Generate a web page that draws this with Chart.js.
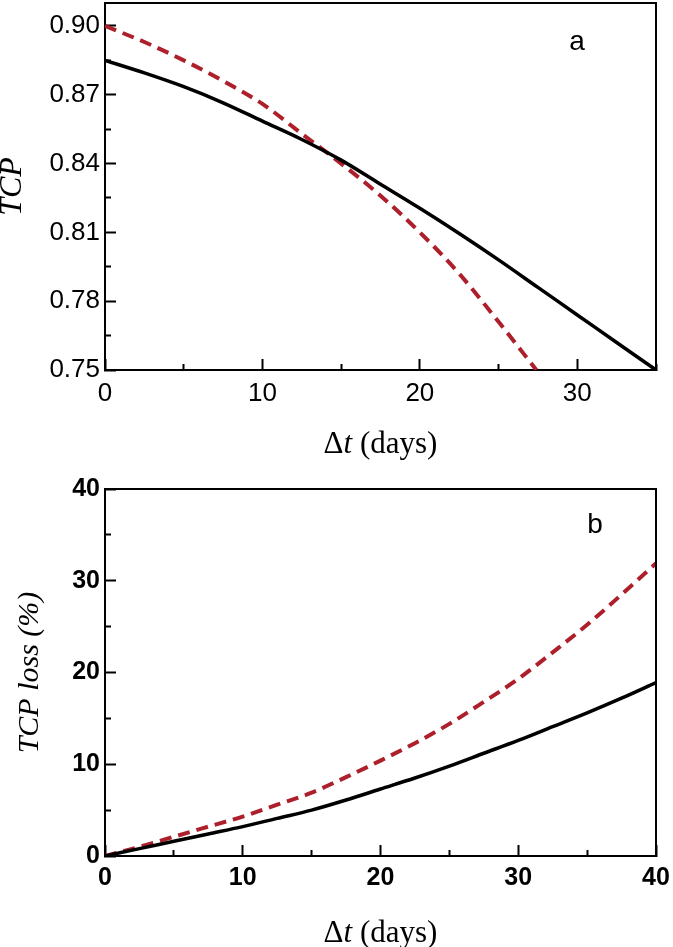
<!DOCTYPE html>
<html>
<head>
<meta charset="utf-8">
<script src="https://cdn.jsdelivr.net/npm/chart.js@4"></script>
<style>
  html, body { margin: 0; padding: 0; background: #fff; }
  .panel { position: absolute; left: 0; width: 673px; }
  #panelA { top: 0; height: 470px; }
  #panelB { top: 470px; height: 477px; }
</style>
</head>
<body>
<div class="panel" id="panelA"><canvas id="chartA" width="673" height="470"></canvas></div>
<div class="panel" id="panelB"><canvas id="chartB" width="673" height="477"></canvas></div>
<script>
// ── Data ──────────────────────────────────────────────────────
// panel a: TCP vs delay
const daysSolidA = [0, 2.5, 5, 7.5, 10, 12.5, 15, 17.5, 20, 22.5, 25, 27.5, 30, 32.5, 35];
const tcpSolidA  = [0.885, 0.8795, 0.8735, 0.8665, 0.8585, 0.8505, 0.8415, 0.831, 0.8205, 0.8095, 0.798, 0.786, 0.774, 0.762, 0.750];
const daysDashA  = [0, 2.5, 5, 7.5, 10, 12.5, 15, 17.5, 20, 22.5, 25, 27.4];
const tcpDashA   = [0.900, 0.893, 0.885, 0.876, 0.866, 0.853, 0.840, 0.826, 0.810, 0.792, 0.771, 0.750];

// panel b: TCP loss (%) vs delay
const daysB      = [0, 2.5, 5, 7.5, 10, 12.5, 15, 17.5, 20, 22.5, 25, 27.5, 30, 32.5, 35, 37.5, 40];
const lossSolidB = [0, 0.8, 1.6, 2.4, 3.2, 4.1, 5.0, 6.1, 7.3, 8.5, 9.8, 11.2, 12.6, 14.1, 15.6, 17.2, 18.9];
const lossDashB  = [0, 1.0, 2.1, 3.2, 4.3, 5.6, 6.9, 8.6, 10.4, 12.3, 14.4, 16.8, 19.3, 22.2, 25.2, 28.5, 31.9];

// axis ranges / ticks
const xRangeA = [0, 35],    xMajorA = 10, xMinorA = 5;
const yRangeA = [0.75, 0.91], yMajorA = 0.03, yMinorA = 0.015;
const xRangeB = [0, 40],    xMajorB = 10, xMinorB = 5;
const yRangeB = [0, 40],    yMajorB = 10, yMinorB = 5;

// ── Helpers ───────────────────────────────────────────────────
const toPoints = (xs, ys) => xs.map((x, i) => ({ x: x, y: ys[i] }));
const isMajor  = (v, major) => Math.abs(v / major - Math.round(v / major)) < 1e-6;

const SANS  = '"Liberation Sans", Arial, Helvetica, sans-serif';
const SERIF = '"Liberation Serif", "Times New Roman", Times, serif';
const RED   = '#ad1f2b';

function solidSet(pts) {
    return { data: pts, borderColor: '#000', borderWidth: 3.5, pointRadius: 0,
             cubicInterpolationMode: 'monotone', fill: false };
}
function dashedSet(pts) {
    return { data: pts, borderColor: RED, borderWidth: 4, borderDash: [12, 7],
             pointRadius: 0, cubicInterpolationMode: 'monotone', fill: false };
}

// frame (top/right), panel letter and "Δt (days)" title with italic t
const decorPlugin = {
    id: 'decor',
    afterDraw(chart, args, o) {
        const { ctx, chartArea: a } = chart;
        ctx.save();
        ctx.strokeStyle = '#000';
        ctx.lineWidth = 2;
        ctx.beginPath();
        ctx.moveTo(a.left, a.top);
        ctx.lineTo(a.right, a.top);
        ctx.lineTo(a.right, a.bottom);
        ctx.stroke();

        ctx.fillStyle = '#000';
        ctx.textBaseline = 'alphabetic';
        ctx.textAlign = 'center';
        ctx.font = '28px ' + SANS;
        ctx.fillText(o.letter, o.letterX, a.top + o.letterDy);

        const parts = [
            { t: 'Δ',       f: '31px ' + SERIF },
            { t: 't',       f: 'italic 31px ' + SERIF },
            { t: ' (days)', f: '31px ' + SERIF }
        ];
        let total = 0;
        parts.forEach(p => { ctx.font = p.f; p.w = ctx.measureText(p.t).width; total += p.w; });
        let x = (a.left + a.right) / 2 - total / 2;
        ctx.textAlign = 'left';
        parts.forEach(p => { ctx.font = p.f; ctx.fillText(p.t, x, a.bottom + o.titleDy); x += p.w; });
        ctx.restore();
    }
};

// axis factory: inward ticks, minor ticks via dash on the tick mark
function axis(pos, range, step, major, font, fmt, pad, size, title) {
    const horiz = pos === 'bottom';
    return {
        type: 'linear',
        position: pos,
        min: range[0],
        max: range[1],
        border: { display: true, color: '#000', width: 2 },
        grid: {
            display: true,
            drawOnChartArea: false,
            drawTicks: true,
            tickLength: -11,
            tickWidth: 2,
            tickColor: '#000',
            tickBorderDash: c => isMajor(c.tick.value, major) ? [] : (horiz ? [7, 100] : [0, 5, 7, 100])
        },
        ticks: {
            stepSize: step,
            includeBounds: false,
            autoSkip: false,
            maxRotation: 0,
            color: '#000',
            padding: pad,
            font: font,
            callback: v => isMajor(v, major) ? fmt(v) : ''
        },
        title: title,
        afterFit: s => {
            if (horiz) { s.height = size; s.paddingLeft = 0; s.paddingRight = 0; }
            else { s.width = size; s.paddingTop = 0; s.paddingBottom = 0; }
        }
    };
}

// ── Panel a ───────────────────────────────────────────────────
const fontA = { family: SANS, size: 26 };
new Chart(document.getElementById('chartA'), {
    type: 'line',
    data: { datasets: [ solidSet(toPoints(daysSolidA, tcpSolidA)), dashedSet(toPoints(daysDashA, tcpDashA)) ] },
    options: {
        responsive: false,
        animation: false,
        layout: { padding: { left: 0, right: 17, top: 3, bottom: 0 } },
        plugins: {
            legend: { display: false },
            tooltip: { enabled: false },
            decor: { letter: 'a', letterX: 577, letterDy: 47, titleDy: 83 }
        },
        scales: {
            x: axis('bottom', xRangeA, xMinorA, xMajorA, fontA, v => String(v), 19, 100, { display: false }),
            y: axis('left', yRangeA, yMinorA, yMajorA, fontA, v => v.toFixed(2), 16, 105, {
                display: true, text: 'TCP', color: '#000',
                font: { family: SERIF, size: 32, style: 'italic', lineHeight: 1 },
                padding: { top: -3, bottom: 0 }
            })
        }
    },
    plugins: [decorPlugin]
});

// ── Panel b ───────────────────────────────────────────────────
const fontB = { family: SANS, size: 25, weight: 'bold' };
new Chart(document.getElementById('chartB'), {
    type: 'line',
    data: { datasets: [ solidSet(toPoints(daysB, lossSolidB)), dashedSet(toPoints(daysB, lossDashB)) ] },
    options: {
        responsive: false,
        animation: false,
        layout: { padding: { left: 0, right: 17, top: 19, bottom: 0 } },
        plugins: {
            legend: { display: false },
            tooltip: { enabled: false },
            decor: { letter: 'b', letterX: 595, letterDy: 44, titleDy: 86 }
        },
        scales: {
            x: axis('bottom', xRangeB, xMinorB, xMajorB, fontB, v => String(v), 18, 91, { display: false }),
            y: axis('left', yRangeB, yMinorB, yMajorB, fontB, v => String(v), 16, 105, {
                display: true, text: 'TCP loss (%)', color: '#000',
                font: { family: SERIF, size: 30, style: 'italic', lineHeight: 1 },
                padding: { top: 15, bottom: 0 }
            })
        }
    },
    plugins: [decorPlugin]
});
</script>
</body>
</html>
